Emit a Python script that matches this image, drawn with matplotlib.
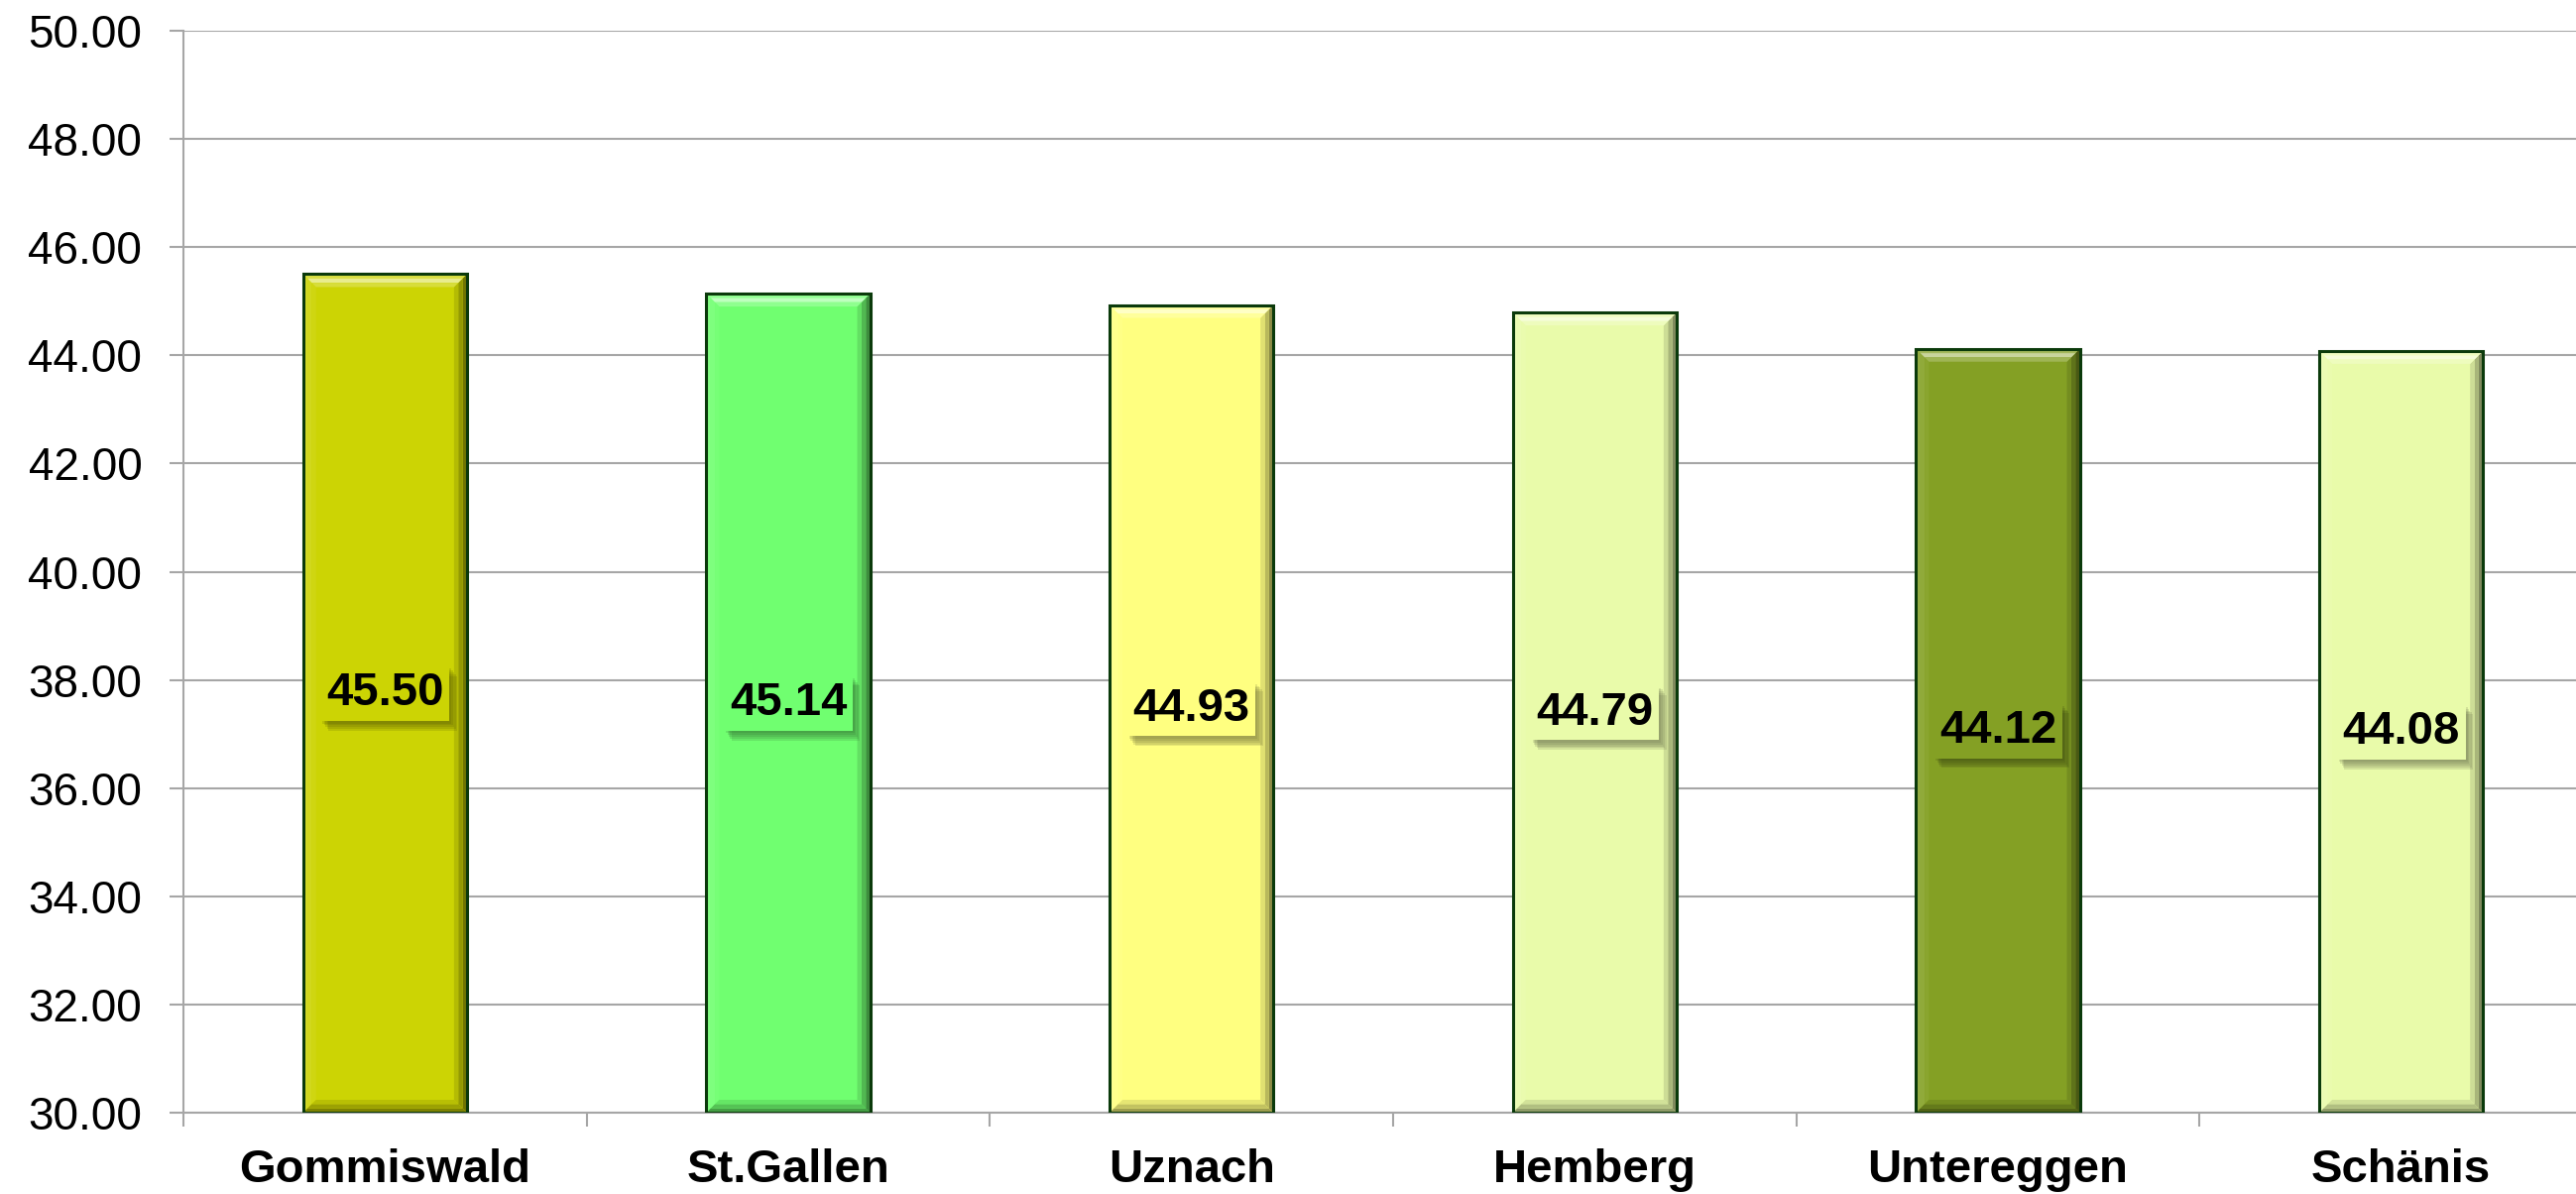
"""Bar chart of average values per station, Excel-style bevelled bars."""

import matplotlib
matplotlib.use("Agg")
import matplotlib.pyplot as plt
import matplotlib.patheffects as pe
from matplotlib.patches import Polygon
from matplotlib.colors import to_rgb

stations = ["Gommiswald", "St.Gallen", "Uznach", "Hemberg", "Untereggen", "Schänis"]
values = [45.50, 45.14, 44.93, 44.79, 44.12, 44.08]
bar_colors = ["#CCD404", "#70FF70", "#FFFF80", "#E9FBAA", "#84A024", "#E9FBAA"]
y_ticks = [30, 32, 34, 36, 38, 40, 42, 44, 46, 48, 50]

Y_MIN, Y_MAX = 30, 50
BAR_W = 0.406
EDGE = "#0B3A0B"
GRID = "#A6A6A6"

plt.rcParams["font.family"] = ["Liberation Sans", "DejaVu Sans"]


def shade(color, f):
    """f > 0 blends toward white, f < 0 toward black."""
    r, g, b = to_rgb(color)
    if f >= 0:
        return (r + (1 - r) * f, g + (1 - g) * f, b + (1 - b) * f)
    return (r * (1 + f), g * (1 + f), b * (1 + f))


W, H, DPI = 25.98, 12.04, 100
fig = plt.figure(figsize=(W, H), dpi=DPI)
ax_rect = [185 / 2598, 82 / 1204, 2440 / 2598, 1091 / 1204]
ax = fig.add_axes(ax_rect)

x = list(range(len(stations)))
ax.set_xlim(-0.5, len(stations) - 0.5)
ax.set_ylim(Y_MIN, Y_MAX)

# bevel thickness in data units (about 13 px)
px_x = len(stations) / (W * DPI * ax_rect[2])
px_y = (Y_MAX - Y_MIN) / (H * DPI * ax_rect[3])
bx, by = 13 * px_x, 13 * px_y

ax.bar(x, [v - Y_MIN for v in values], bottom=Y_MIN, width=BAR_W,
       color=bar_colors, edgecolor="none", zorder=2)


def band(x0, x1, y0, y1, side, k, n):
    """k-th of n nested bands on one facet of the bar frame."""
    a, b = k / n, (k + 1) / n
    if side == "top":
        return [(x0 + bx * a, y1 - by * a), (x1 - bx * a, y1 - by * a),
                (x1 - bx * b, y1 - by * b), (x0 + bx * b, y1 - by * b)]
    if side == "bottom":
        return [(x0 + bx * a, y0 + by * a), (x1 - bx * a, y0 + by * a),
                (x1 - bx * b, y0 + by * b), (x0 + bx * b, y0 + by * b)]
    if side == "right":
        return [(x1 - bx * a, y1 - by * a), (x1 - bx * a, y0 + by * a),
                (x1 - bx * b, y0 + by * b), (x1 - bx * b, y1 - by * b)]
    return [(x0 + bx * a, y1 - by * a), (x0 + bx * a, y0 + by * a),
            (x0 + bx * b, y0 + by * b), (x0 + bx * b, y1 - by * b)]


facets = {
    "left": [0.14, 0.10, 0.05],
    "bottom": [-0.38, -0.24, -0.10],
    "right": [-0.45, -0.28, -0.12],
    "top": [0.25, 0.55, 0.22],
}

for xi, v, c in zip(x, values, bar_colors):
    x0, x1 = xi - BAR_W / 2, xi + BAR_W / 2
    for side, steps in facets.items():
        for k, f in enumerate(steps):
            ax.add_patch(Polygon(band(x0, x1, Y_MIN, v, side, k, len(steps)),
                                 closed=True, fc=shade(c, f), ec="none", zorder=3))

# outline on top of the facets
ax.bar(x, [v - Y_MIN for v in values], bottom=Y_MIN, width=BAR_W,
       fill=False, edgecolor=EDGE, linewidth=2.2, zorder=4)

for xi, v, c in zip(x, values, bar_colors):
    t = ax.text(xi, (Y_MIN + v) / 2, f"{v:.2f}", ha="center", va="center",
                fontsize=34, fontweight="bold", color="black", zorder=6,
                bbox=dict(boxstyle="square,pad=0.12", fc=c, ec="none"))
    dark = shade(c, -0.6)
    t.get_bbox_patch().set_path_effects(
        [pe.SimplePatchShadow(offset=(o, -o * 1.3), shadow_rgbFace=dark, alpha=0.16)
         for o in (1.5, 2.5, 3.5, 4.5, 5.5)]
        + [pe.Normal()]
    )

ax.set_yticks(y_ticks)
ax.set_yticklabels([f"{t:.2f}" for t in y_ticks])
ax.set_xticks(x)
ax.set_xticklabels(stations, fontweight="bold")
ax.set_xticks([i + 0.5 for i in range(-1, len(stations))], minor=True)

ax.yaxis.grid(True, color=GRID, linewidth=1.5, zorder=0)
ax.set_axisbelow(True)
for side in ("top", "right"):
    ax.spines[side].set_visible(False)
for side in ("left", "bottom"):
    ax.spines[side].set_color(GRID)
    ax.spines[side].set_linewidth(1.5)

ax.tick_params(axis="y", labelsize=33, length=10, width=1.5, color=GRID, pad=20)
ax.tick_params(axis="x", which="major", length=0, labelsize=34, pad=26)
ax.tick_params(axis="x", which="minor", length=10, width=1.5, color=GRID)

fig.savefig("out.png", dpi=DPI)
